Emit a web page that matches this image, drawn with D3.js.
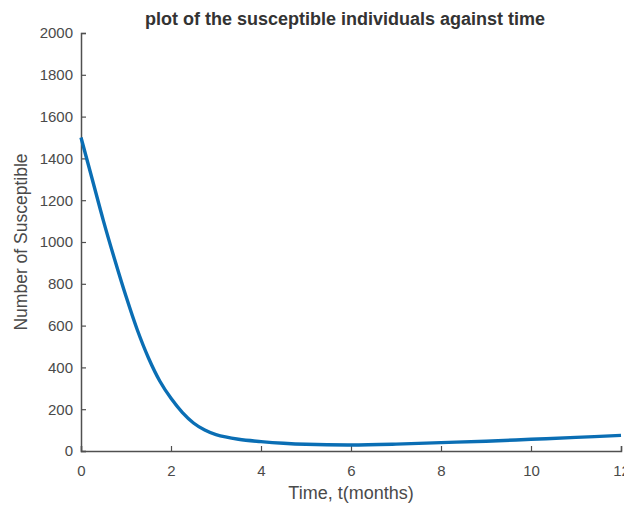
<!DOCTYPE html>
<html>
<head>
<meta charset="utf-8">
<script src="https://cdn.jsdelivr.net/npm/d3@7"></script>
<style>
  body { margin: 0; background: #fff; }
  svg { font-family: "Liberation Sans", Arial, sans-serif; }
</style>
</head>
<body>
<svg id="chart" width="624" height="506"></svg>
<script>
// time in months and susceptible count
const timeMonths = [0, 0.25, 0.5, 0.75, 1, 1.25, 1.5, 1.75, 2, 2.25, 2.5, 2.75, 3, 3.5, 4, 4.5, 5, 6, 7, 8, 9, 10, 11, 12];
const susceptible = [1500, 1300, 1100, 915, 740, 580, 445, 335, 252, 185, 134, 100, 78, 56, 45, 37, 32, 29, 33, 40, 47, 56, 65, 75];
const xTicks = [0, 2, 4, 6, 8, 10, 12];
const yTicks = [0, 200, 400, 600, 800, 1000, 1200, 1400, 1600, 1800, 2000];

const data = timeMonths.map((t, i) => ({ t: t, s: susceptible[i] }));

const svg = d3.select("#chart");
const margin = { top: 33, right: 3, bottom: 55, left: 81 };
const width = 624 - margin.left - margin.right;
const height = 506 - margin.top - margin.bottom;
const axisColor = "#505050";

const g = svg.append("g").attr("transform", `translate(${margin.left},${margin.top})`);

const x = d3.scaleLinear().domain([0, 12]).range([0, width]);
const y = d3.scaleLinear().domain([0, 2000]).range([height, 0]);

// x axis, ticks pointing inward
const xAxis = g.append("g")
  .attr("transform", `translate(0,${height})`)
  .call(d3.axisBottom(x).tickValues(xTicks).tickSize(-5).tickPadding(14).tickFormat(d3.format("d")));

// y axis, ticks pointing inward
const yAxis = g.append("g")
  .call(d3.axisLeft(y).tickValues(yTicks).tickSize(-5).tickPadding(8).tickFormat(d3.format("d")));

[xAxis, yAxis].forEach(a => {
  a.select(".domain").attr("stroke", axisColor).attr("stroke-width", 1.5);
  a.selectAll(".tick line").attr("stroke", axisColor).attr("stroke-width", 1.2);
  a.selectAll(".tick text")
    .attr("fill", "#4a4a4a")
    .style("font-size", "15px")
    .style("font-family", "'Liberation Sans', Arial, sans-serif");
});

// susceptible curve
const line = d3.line()
  .x(d => x(d.t))
  .y(d => y(d.s))
  .curve(d3.curveCatmullRom);

g.append("path")
  .datum(data)
  .attr("fill", "none")
  .attr("stroke", "#0a6eb4")
  .attr("stroke-width", 3.4)
  .attr("d", line);

// title
svg.append("text")
  .attr("x", 345)
  .attr("y", 25)
  .attr("text-anchor", "middle")
  .attr("font-weight", "bold")
  .attr("fill", "#333")
  .style("font-size", "18px")
  .text("plot of the susceptible individuals against time");

// x label
svg.append("text")
  .attr("x", 351)
  .attr("y", 499)
  .attr("text-anchor", "middle")
  .attr("fill", "#4a4a4a")
  .style("font-size", "18px")
  .text("Time, t(months)");

// y label
svg.append("text")
  .attr("transform", "translate(27,242) rotate(-90)")
  .attr("text-anchor", "middle")
  .attr("fill", "#4a4a4a")
  .style("font-size", "17.5px")
  .text("Number of Susceptible");
</script>
</body>
</html>
